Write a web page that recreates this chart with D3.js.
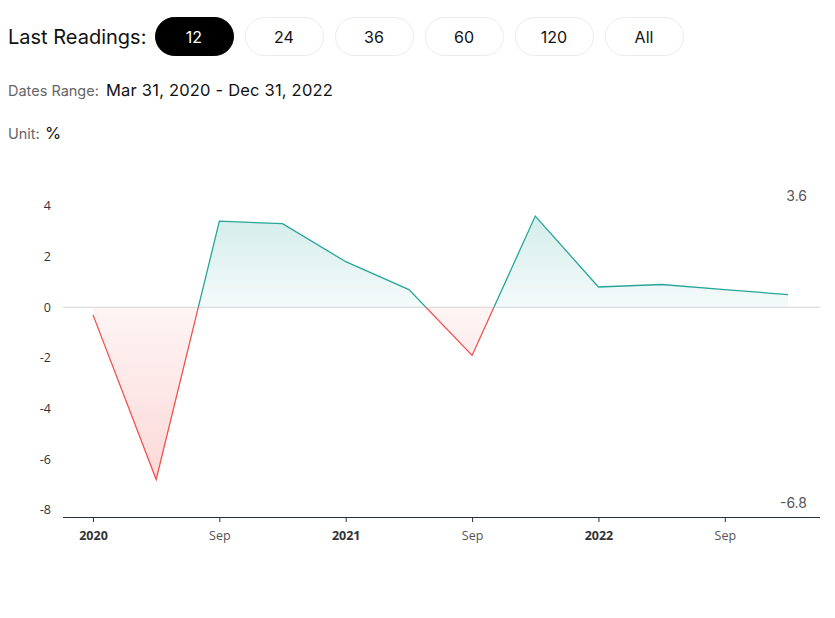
<!DOCTYPE html>
<html>
<head>
<meta charset="utf-8">
<script src="https://cdn.jsdelivr.net/npm/d3@7/dist/d3.min.js"></script>
<style>
  html, body { margin: 0; padding: 0; background: #fff; }
  svg { display: block; }
</style>
</head>
<body>
<svg id="chart" width="835" height="618"></svg>
<script>
// ---- data ----
const periods = ["2020-Q1","2020-Q2","2020-Q3","2020-Q4","2021-Q1","2021-Q2","2021-Q3","2021-Q4","2022-Q1","2022-Q2","2022-Q3","2022-Q4"];
const values  = [-0.3, -6.8, 3.4, 3.3, 1.8, 0.7, -1.9, 3.6, 0.8, 0.9, 0.7, 0.5];
const xTickLabels = {"2020-Q1":"2020","2020-Q3":"Sep","2021-Q1":"2021","2021-Q3":"Sep","2022-Q1":"2022","2022-Q3":"Sep"};
const boldTicks = ["2020","2021","2022"];
const yTicks = [-8, -6, -4, -2, 0, 2, 4];
const buttons = ["12","24","36","60","120","All"];
const activeButton = "12";
const datesRange = "Mar 31, 2020 - Dec 31, 2022";
const unit = "%";

const uiFont = "Inter, 'Noto Sans', sans-serif";
const axisFont = "'Open Sans', 'Noto Sans', sans-serif";
const green = "#26a69a", red = "#ef5350";
const hy = s => String(s).replace("\u2212", "-");

const svg = d3.select("#chart");

// ---- header ----
svg.append("text").attr("x", 8).attr("y", 44).attr("font-family", uiFont)
  .attr("font-size", 20).attr("fill", "#111").text("Last Readings:");
const bg = svg.append("g");
buttons.forEach((b, i) => {
  const x = 155 + i * 90;
  const active = b === activeButton;
  bg.append("rect").attr("x", x + 0.5).attr("y", 17.5).attr("width", 78).attr("height", 38)
    .attr("rx", 19).attr("fill", active ? "#000" : "#fff")
    .attr("stroke", active ? "#000" : "#ececec");
  bg.append("text").attr("x", x + 39).attr("y", 42.5).attr("text-anchor", "middle")
    .attr("font-family", uiFont).attr("font-size", 16)
    .attr("fill", active ? "#fff" : "#111").text(b);
});
svg.append("text").attr("x", 8).attr("y", 96).attr("font-family", uiFont)
  .attr("font-size", 14.5).attr("fill", "#666").text("Dates Range:");
svg.append("text").attr("x", 106).attr("y", 96).attr("font-family", uiFont)
  .attr("font-size", 16.5).attr("letter-spacing", 0.2).attr("fill", "#111").text(datesRange);
svg.append("text").attr("x", 8).attr("y", 139).attr("font-family", uiFont)
  .attr("font-size", 14.5).attr("fill", "#666").text("Unit:");
svg.append("text").attr("x", 45).attr("y", 139).attr("font-family", uiFont)
  .attr("font-size", 16.5).attr("fill", "#111").text(unit);

// ---- scales ----
const x = d3.scalePoint().domain(periods).range([93, 788]);
const y = d3.scaleLinear().domain([-8.28, 5.42]).range([517, 170]);
const axisLeft = 63, axisRight = 820;

const data = periods.map((p, i) => ({p, v: values[i]}));

// gradients & clips
const defs = svg.append("defs");
const vmax = d3.max(values), vmin = d3.min(values);
const gG = defs.append("linearGradient").attr("id", "gGreen")
  .attr("gradientUnits", "userSpaceOnUse").attr("x1", 0).attr("x2", 0)
  .attr("y1", y(vmax)).attr("y2", y(0));
gG.append("stop").attr("offset", 0).attr("stop-color", green).attr("stop-opacity", 0.2);
gG.append("stop").attr("offset", 1).attr("stop-color", green).attr("stop-opacity", 0.05);
const gR = defs.append("linearGradient").attr("id", "gRed")
  .attr("gradientUnits", "userSpaceOnUse").attr("x1", 0).attr("x2", 0)
  .attr("y1", y(0)).attr("y2", y(vmin));
gR.append("stop").attr("offset", 0).attr("stop-color", red).attr("stop-opacity", 0.06);
gR.append("stop").attr("offset", 1).attr("stop-color", red).attr("stop-opacity", 0.22);

defs.append("clipPath").attr("id", "clipPos").append("rect")
  .attr("x", 0).attr("y", 0).attr("width", 835).attr("height", y(0));
defs.append("clipPath").attr("id", "clipNeg").append("rect")
  .attr("x", 0).attr("y", y(0)).attr("width", 835).attr("height", 618 - y(0));

const area = d3.area().x(d => x(d.p)).y0(y(0)).y1(d => y(d.v));
const line = d3.line().x(d => x(d.p)).y(d => y(d.v));

svg.append("path").datum(data).attr("d", area).attr("fill", "url(#gGreen)").attr("clip-path", "url(#clipPos)");
svg.append("path").datum(data).attr("d", area).attr("fill", "url(#gRed)").attr("clip-path", "url(#clipNeg)");

// zero line
svg.append("line").attr("x1", axisLeft).attr("x2", axisRight)
  .attr("y1", y(0)).attr("y2", y(0)).attr("stroke", "#d4d4d4").attr("stroke-width", 1);

svg.append("path").datum(data).attr("d", line).attr("fill", "none").attr("stroke", green)
  .attr("stroke-width", 1.3).attr("clip-path", "url(#clipPos)");
svg.append("path").datum(data).attr("d", line).attr("fill", "none").attr("stroke", red)
  .attr("stroke-width", 1.3).attr("clip-path", "url(#clipNeg)");

// y axis labels
const ya = svg.append("g").attr("transform", "translate(51,0)")
  .call(d3.axisLeft(y).tickValues(yTicks).tickSize(0).tickPadding(0).tickFormat(d => hy(d3.format("d")(d))));
ya.select(".domain").remove();
ya.selectAll("text").attr("font-family", axisFont).attr("font-size", 12.5).attr("fill", "#333");

// x axis
const xa = svg.append("g").attr("transform", `translate(0,${y.range()[0]})`)
  .call(d3.axisBottom(x).tickValues(Object.keys(xTickLabels)).tickSize(5).tickPadding(9)
    .tickFormat(d => xTickLabels[d]));
xa.select(".domain").attr("d", `M${axisLeft},0.5H${axisRight}`).attr("stroke", "#2a2f45").attr("stroke-width", 1.2);
xa.selectAll(".tick line").attr("stroke", "#2a2f45");
xa.selectAll("text").attr("font-family", axisFont).attr("font-size", 12.5)
  .attr("font-weight", d => boldTicks.includes(xTickLabels[d]) ? "bold" : "normal")
  .attr("fill", d => boldTicks.includes(xTickLabels[d]) ? "#333" : "#555");

// max / min labels
svg.append("text").attr("x", 807).attr("y", 201).attr("text-anchor", "end")
  .attr("font-family", uiFont).attr("font-size", 14).attr("fill", "#555").text(hy(d3.format(".1f")(vmax)));
svg.append("text").attr("x", 807).attr("y", 508).attr("text-anchor", "end")
  .attr("font-family", uiFont).attr("font-size", 14).attr("fill", "#555").text(hy(d3.format(".1f")(vmin)));
</script>
</body>
</html>
